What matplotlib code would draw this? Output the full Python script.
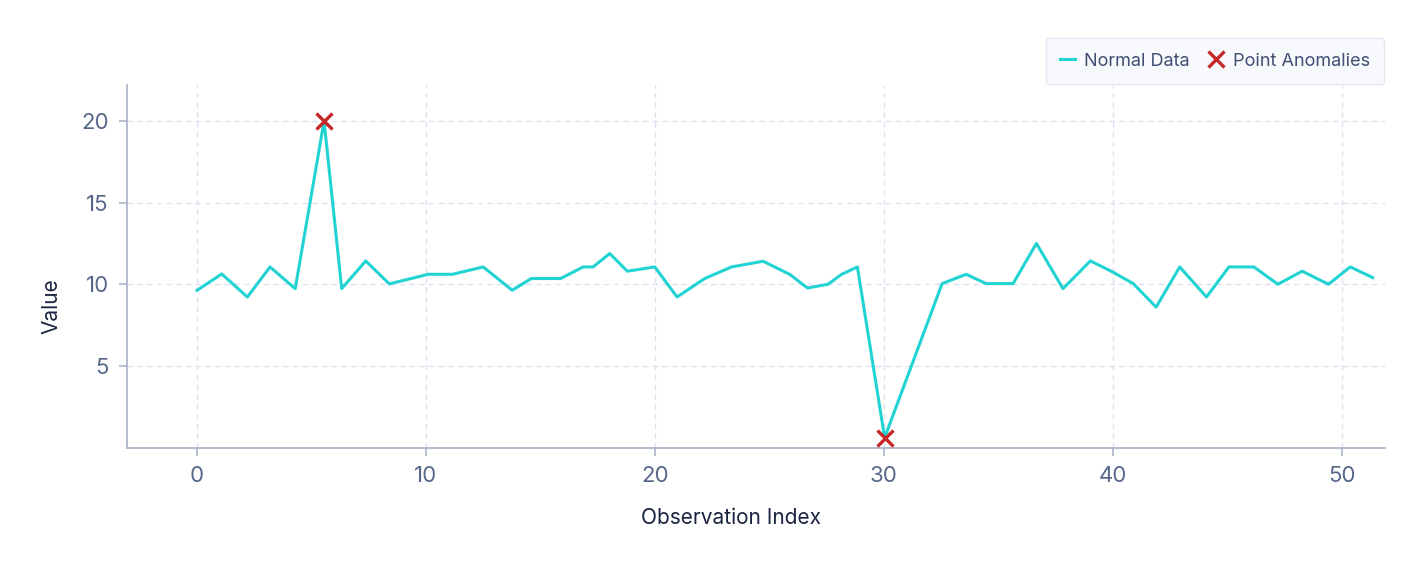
import matplotlib
matplotlib.use("Agg")
import matplotlib.pyplot as plt

plt.rcParams['font.family'] = ['Inter', 'DejaVu Sans']

obs_x = [0, 1.08, 2.2, 3.19, 4.29, 5.55, 6.32, 7.37, 8.4, 10.1, 11.16, 12.5, 13.77,
         14.6, 15.88, 16.87, 17.3, 18.03, 18.8, 20.0, 20.97, 22.18, 23.35, 24.73,
         25.9, 26.67, 27.57, 28.15, 28.85, 30.04, 32.55, 33.6, 34.47, 35.65, 36.67,
         37.83, 39.03, 40.0, 40.9, 41.9, 42.93, 44.1, 45.08, 46.17, 47.22, 48.28,
         49.43, 50.38, 51.36]
obs_y = [9.63, 10.63, 9.22, 11.06, 9.73, 20.0, 9.73, 11.43, 10.02, 10.61, 10.61, 11.06,
         9.63, 10.35, 10.35, 11.06, 11.06, 11.88, 10.8, 11.06, 9.22, 10.35, 11.06, 11.41,
         10.6, 9.77, 10.0, 10.6, 11.06, 0.6, 10.04, 10.61, 10.04, 10.04, 12.5,
         9.73, 11.43, 10.75, 10.04, 8.6, 11.06, 9.22, 11.06, 11.06, 10.0, 10.8,
         10.0, 11.06, 10.41]

# 이상치
anom_x = [5.55, 30.04]
anom_y = [20.0, 0.6]

fig = plt.figure(figsize=(14.22, 5.69), dpi=100)
ax = fig.add_axes([0.0893, 0.2135, 0.8847, 0.637])

ax.plot(obs_x, obs_y, color='#22d3d3', lw=2.2, label='Normal Data', zorder=3)
ax.plot(anom_x, anom_y, ls='none', marker='x', color='#c62828', ms=12, mew=2.4,
        label='Point Anomalies', zorder=4, clip_on=False)

ax.set_xlim(-3.06, 51.9)
ax.set_ylim(0, 22.2)
ax.set_xticks([0, 10, 20, 30, 40, 50])
ax.set_yticks([5, 10, 15, 20])

ax.grid(True, color='#dde1f0', ls=(0, (4, 3)), lw=1)
ax.set_axisbelow(True)
for s in ['top', 'right']:
    ax.spines[s].set_visible(False)
for s in ['left', 'bottom']:
    ax.spines[s].set_color('#a7afc4')
    ax.spines[s].set_linewidth(1.2)
ax.tick_params(colors='#a7afc4', labelcolor='#56678a', labelsize=16, length=6, width=1.1, pad=7)

ax.set_xlabel('Observation Index', fontsize=15, color='#1a2340')
ax.set_ylabel('Value', fontsize=15, color='#1a2340')
ax.xaxis.set_label_coords(0.48, -0.166)
ax.yaxis.set_label_coords(-0.052, 0.39)

leg = ax.legend(loc='lower right', bbox_to_anchor=(1.0, 1.0), ncol=2, fontsize=13,
                frameon=True, facecolor='#f7f8fc', edgecolor='#dde2f0',
                handlelength=0.8, handletextpad=0.5, columnspacing=1.1,
                borderpad=0.8, borderaxespad=0.05, fancybox=True)
for t in leg.get_texts():
    t.set_color('#3f4f72')

fig.savefig('out.png', dpi=100)
